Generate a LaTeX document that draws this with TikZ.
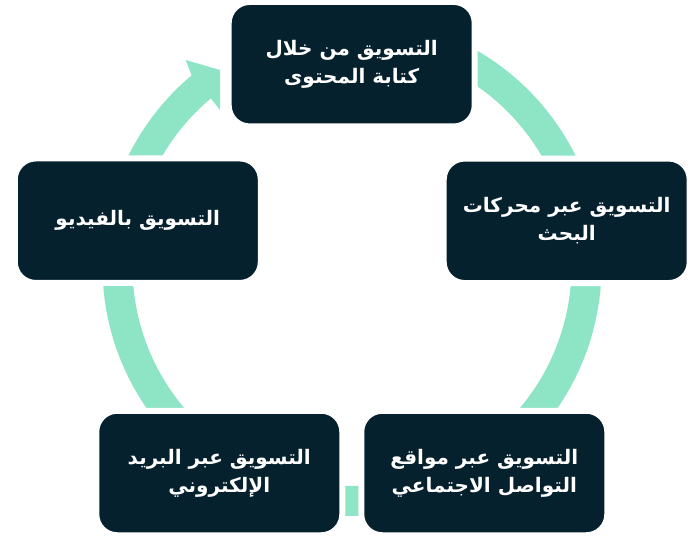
\documentclass[tikz,border=0pt]{standalone}
\usepackage{fontspec}
\TeXXeTstate=1
\newfontfamily\arabicfont[Script=Arabic]{DejaVu Sans}
\definecolor{boxnavy}{RGB}{6,33,46}
\definecolor{ringgreen}{RGB}{141,229,198}
\begin{document}
\begin{tikzpicture}[x=1pt,y=1pt,
  cyclebox/.style={rectangle, rounded corners=21pt, fill=boxnavy, draw=white, line width=6pt,
    minimum width=246pt, minimum height=124.5pt, inner sep=0pt, text=white, align=center,
    font=\arabicfont\bfseries\fontsize{20}{28}\selectfont},
  ring/.style={draw=ringgreen, line width=30pt},
  head/.style={fill=ringgreen, draw=none}]
\useasboundingbox (0,0) rectangle (700,547);
\coordinate (c) at (352,280.5);
% ring
\draw[ring] (c) ++(128:234.5) arc[start angle=128, end angle=440, radius=234.5];
% arrow head
\fill[head] (191.6,471.6) -- (185.7,487) -- (220,477) -- (220,437) -- (210.9,448.6) -- cycle;
% boxes
\node[cyclebox] (top) at (351.7,482.8) {\beginR التسويق من خلال\endR\\\beginR كتابة المحتوى\endR};
\node[cyclebox] (right) at (566.7,326.2) {\beginR التسويق عبر محركات\endR\\\beginR البحث\endR};
\node[cyclebox] (bright) at (484.3,74) {\beginR التسويق عبر مواقع\endR\\\beginR التواصل الاجتماعي\endR};
\node[cyclebox] (bleft) at (219.3,74) {\beginR التسويق عبر البريد\endR\\\beginR الإلكتروني\endR};
\node[cyclebox] (left) at (137.8,326.3) {\beginR التسويق بالفيديو\endR};
\end{tikzpicture}
\end{document}
